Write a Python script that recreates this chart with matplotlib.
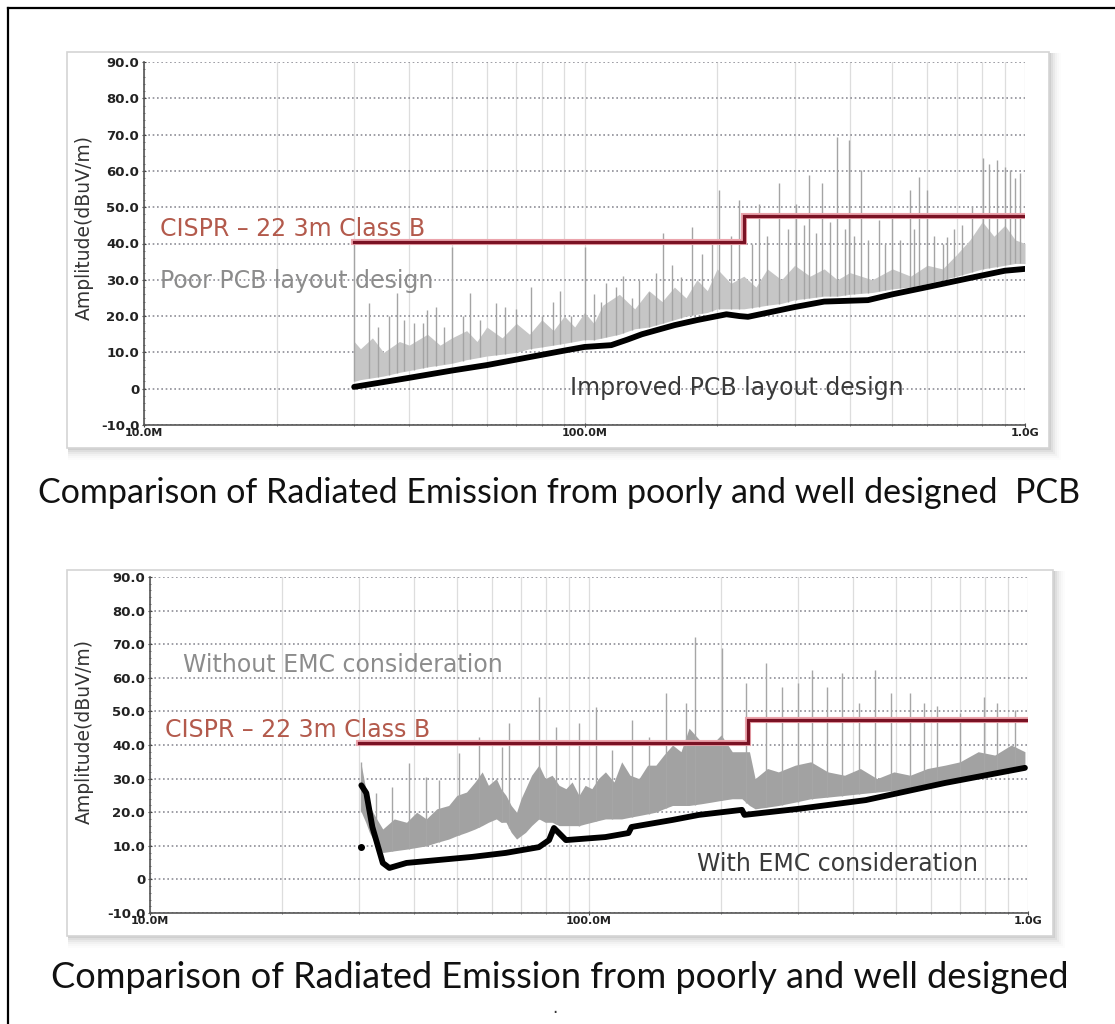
import matplotlib.pyplot as plt
import numpy as np
from matplotlib.patches import Rectangle
from matplotlib.ticker import FixedLocator, MultipleLocator, NullFormatter

W, H = 1115, 1024

# ---- top chart: poor vs improved PCB layout (freq MHz, level dBuV/m) ----
top_base_f = [30, 40, 50, 60, 75, 90, 100, 115, 125, 135, 160, 180, 210, 225,
              235, 300, 350, 440, 500, 600, 750, 900, 1000]
top_base_db = [0.5, 3, 5, 6.5, 8.7, 10.5, 11.5, 12, 13.5, 15, 17.5, 18.9, 20.5,
               20, 19.8, 22.5, 24, 24.4, 26, 28, 30.5, 32.5, 33]

top_band_f = [30, 31, 33, 35, 38, 40, 44, 47, 50, 54, 57, 60, 65, 70, 75, 80, 85,
              90, 95, 100, 105, 110, 120, 130, 140, 150, 160, 170, 180, 190, 200,
              215, 230, 245, 260, 280, 300, 325, 350, 375, 400, 450, 500, 550,
              600, 650, 700, 750, 800, 850, 900, 950, 1000]
top_band_lo = [2, 2.5, 3, 3.5, 4.5, 5, 6, 6.5, 7, 8, 8.5, 9, 9.5, 10, 11, 11.5,
               12, 12.5, 13, 13.5, 13.5, 14, 15, 16.5, 17, 18, 19, 20, 20.5, 21,
               22, 22, 22, 22.5, 23, 23.5, 24.5, 25, 25.5, 25.5, 26, 26.5, 27.5,
               28, 29, 30, 31, 32, 33, 33.5, 34, 34.5, 34.5]
top_band_hi = [13, 11, 14, 10, 13, 12, 15, 12, 14, 16, 13, 17, 14, 18, 15, 19,
               16, 20, 17, 21, 18, 23, 26, 22, 27, 24, 28, 25, 30, 27, 33, 29, 31,
               28, 33, 30, 34, 31, 33, 30, 32, 30, 33, 31, 34, 33, 37, 41, 46, 42,
               45, 41, 40]

top_spike_f = [30, 32.4, 34, 36, 37.6, 39, 41, 43, 44, 46, 48, 50.1, 53, 55, 58,
               62.8, 65.9, 70, 75.5, 80, 85, 88, 93, 100, 105, 109, 112, 118, 122,
               128, 133, 140, 145, 151, 158, 166, 175, 185, 195, 202, 215, 224,
               240, 249, 260, 276, 290, 302, 315, 323, 335, 346, 360, 375, 390,
               399, 410, 425, 440, 467, 480, 500, 520, 547, 560, 576, 598, 620,
               650, 664, 690, 720, 760, 802, 830, 863, 900, 925, 950, 975]
top_spike_db = [40, 23.6, 17, 20, 26.5, 19, 18, 18, 21.7, 22.5, 17, 39, 20, 26.4,
                19, 23.6, 22.5, 22, 28, 20, 24, 27, 20, 39, 26, 24, 29, 28, 31,
                25, 30, 26.6, 32, 43, 34, 30.8, 44.5, 37, 40, 54.7, 42, 52, 40,
                51, 42, 56.7, 44, 51, 45, 58.9, 43, 56.7, 46, 69.3, 44, 68.5, 42,
                60.2, 41, 46.5, 40, 47.3, 41, 54.7, 44, 58.3, 54.7, 42, 40, 41.8,
                44, 45, 50, 63.6, 62, 63, 61, 60.2, 58, 59.4]

# ---- bottom chart: without vs with EMC consideration ----
bot_base_f = [30.3, 31.1, 32.1, 33.9, 35.1, 38.4, 45.6, 54.2, 64.7, 76.9, 81.1,
              83.2, 88.6, 109, 123, 125, 155, 178, 223, 226, 300, 427, 647, 984]
bot_base_db = [28, 25.7, 15.6, 4.9, 3.4, 4.9, 5.8, 6.7, 7.9, 9.6, 11.7, 15.3,
               11.7, 12.6, 13.8, 15.6, 17.7, 19.2, 20.7, 19.2, 21, 23.6, 28.7, 33.2]
bot_dot_f = [30.3]
bot_dot_db = [9.6]

bot_band_f = [30.3, 31.0, 31.6, 32.5, 33.9, 36, 38.4, 40.5, 42.6, 45, 47.9, 50,
              52.6, 55, 57.1, 59, 61.5, 63, 64.7, 66.5, 68.4, 70, 71.7, 74, 76.9,
              79.5, 82.4, 85.5, 88.6, 91.5, 94.9, 98, 101.5, 105, 109, 114, 118.7,
              124, 130, 136, 142, 148, 155, 162, 169, 180, 190, 200, 212, 223,
              232, 239, 255, 270, 295, 320, 350, 382, 415, 453, 495, 539, 590,
              647, 700, 770, 840, 916, 984]
bot_band_lo = [20, 17, 14, 11, 8, 8.5, 9, 9.5, 10, 11, 12, 13, 14, 15, 16, 17,
               18, 17, 17, 14, 12, 13, 14, 16, 18, 17, 17, 16, 16, 16, 16, 16.5,
               17, 17.5, 18, 18, 18, 18.5, 19, 19.5, 20, 21, 22, 22, 22, 22.5,
               23, 23.5, 24, 24, 22, 21, 21.5, 22, 23, 24, 24.5, 25, 25.5, 26,
               26.5, 27, 28, 29, 30, 31, 32, 33, 34]
bot_band_hi = [34, 27, 22, 19, 15, 18, 17, 20, 18, 21, 22, 25, 26, 29, 32, 28,
               30, 27, 25, 22, 20, 24, 27, 31, 34, 30, 31, 28, 27, 29, 25, 28,
               27, 30, 32, 29, 35, 31, 30, 34, 34, 37, 40, 38, 45, 41, 40, 43,
               38, 38, 38, 30, 33, 32, 34, 35, 32, 31, 33, 30, 32, 31, 33, 34,
               35, 38, 37, 40, 38]

bot_spike_f = [30.3, 32.8, 35.5, 39.0, 42.6, 45.6, 50.7, 56.3, 63.5, 65.8, 77, 84,
               95, 104, 113, 125, 137, 150, 166, 174, 201, 228, 253, 275, 299,
               322, 348, 377, 412, 449, 487, 539, 580, 619, 701, 795, 851, 935]
bot_spike_db = [35, 25.7, 27.5, 34.6, 30.5, 29.6, 37.6, 42.4, 39.4, 46.5, 54.3,
                45.4, 46.5, 51.3, 38.5, 47.4, 42.4, 55.5, 52.5, 72, 69, 58.5, 64.4,
                57.3, 58.5, 62.3, 57.3, 61.4, 52.5, 62.3, 55.5, 55.5, 52.5, 51.5,
                49.5, 54.3, 52.5, 50.4]

# CISPR 22 class B 3m limit
limit_f = [30, 230, 230, 1000]
limit_db = [40.5, 40.5, 47.5, 47.5]

y_ticks = [-10, 0, 10, 20, 30, 40, 50, 60, 70, 80, 90]
y_ticklabels = ["-10.0", "0", "10.0", "20.0", "30.0", "40.0", "50.0", "60.0",
                "70.0", "80.0", "90.0"]
x_ticks = [10, 100, 1000]
x_ticklabels = ["10.0M", "100.0M", "1.0G"]

caption_top = "Comparison of Radiated Emission from poorly and well designed  PCB"
caption_bot = "Comparison of Radiated Emission from poorly and well designed"


def box(x0, y0, x1, y1):
    # pixel box (top-left origin) -> figure fraction rect
    return [x0 / W, 1 - y1 / H, (x1 - x0) / W, (y1 - y0) / H]


def panel(fig, x0, y0, x1, y1):
    # soft shadow, mostly to the right / bottom
    for i, a in enumerate([0.06, 0.045, 0.035, 0.025, 0.015, 0.01]):
        r = box(x0 + 1, y0 + 1, x1 + 2 + i * 2, y1 + 2 + i * 2)
        fig.add_artist(Rectangle((r[0], r[1]), r[2], r[3], transform=fig.transFigure,
                                 facecolor='black', edgecolor='none', alpha=a, zorder=-10))
    r = box(x0, y0, x1, y1)
    fig.add_artist(Rectangle((r[0], r[1]), r[2], r[3], transform=fig.transFigure,
                             facecolor='white', edgecolor='#d4d4d4', lw=1.2, zorder=-5))


def chart(ax, base_f, base_db, band_f, band_lo, band_hi, spike_f, spike_db,
          band_col, spike_col):
    ax.set_xscale('log')
    ax.set_xlim(10, 1000)
    ax.set_ylim(-10, 90)
    ax.set_facecolor('white')

    ax.xaxis.set_major_locator(FixedLocator(x_ticks))
    ax.xaxis.set_minor_locator(FixedLocator([m * d for d in (10, 100) for m in range(2, 10)]))
    ax.xaxis.set_minor_formatter(NullFormatter())
    ax.set_xticks(x_ticks, x_ticklabels)
    ax.set_yticks(y_ticks, y_ticklabels)
    ax.yaxis.set_minor_locator(MultipleLocator(2))

    ax.grid(True, which='both', axis='x', color='#dddddd', lw=0.9, ls='-')
    ax.grid(True, which='major', axis='y', color='#8e8e96', lw=1.2, ls=(0, (1, 1.6)))
    ax.set_axisbelow(True)

    for s in ('top', 'right'):
        ax.spines[s].set_visible(False)
    for s in ('left', 'bottom'):
        ax.spines[s].set_color('#555555')
        ax.spines[s].set_linewidth(1.2)

    ax.tick_params(axis='both', which='major', colors='#444444',
                   labelcolor='#222222', length=3, direction='inout')
    ax.tick_params(axis='both', which='minor', colors='#666666', length=2,
                   direction='inout')
    ax.tick_params(axis='y', labelsize=9.5, pad=2)
    ax.tick_params(axis='x', labelsize=8, pad=1)
    for lab in ax.get_xticklabels() + ax.get_yticklabels():
        lab.set_fontweight('bold')
        lab.set_family('DejaVu Sans')

    ax.fill_between(band_f, band_lo, band_hi, color=band_col, lw=0, zorder=2)
    lo_at = np.interp(np.log10(spike_f), np.log10(band_f), band_lo)
    ax.vlines(spike_f, lo_at, spike_db, color=spike_col, lw=1.0, zorder=2)

    ax.plot(limit_f, limit_db, color='#eba4ac', lw=4.4, zorder=3,
            solid_joinstyle='miter')
    ax.plot(limit_f, limit_db, color='#7a1224', lw=2.3, zorder=4,
            solid_joinstyle='miter')

    ax.plot(base_f, base_db, color='black', lw=4.2, zorder=5, solid_capstyle='round')


fig = plt.figure(figsize=(W / 100, H / 100), dpi=100)
fig.patch.set_facecolor('white')

# outer frame (left and top edges visible)
fig.add_artist(plt.Line2D([8 / W, 8 / W], [0, 1 - 8 / H], transform=fig.transFigure,
                          color='black', lw=1.6))
fig.add_artist(plt.Line2D([8 / W, 1], [1 - 8 / H, 1 - 8 / H], transform=fig.transFigure,
                          color='black', lw=1.6))

panel(fig, 67, 52, 1049, 448)
panel(fig, 67, 570, 1053, 936)

ax1 = fig.add_axes(box(144, 62, 1025, 425))
chart(ax1, top_base_f, top_base_db, top_band_f, top_band_lo, top_band_hi,
      top_spike_f, top_spike_db, '#c6c6c6', '#a4a4a4')

ax2 = fig.add_axes(box(150, 577, 1028, 913))
chart(ax2, bot_base_f, bot_base_db, bot_band_f, bot_band_lo, bot_band_hi,
      bot_spike_f, bot_spike_db, '#a2a2a2', '#a6a6a6')
ax2.plot(bot_dot_f, bot_dot_db, 'o', color='black', ms=4, zorder=6)


def label(x, y, s, color, size=17):
    fig.text(x / W, 1 - y / H, s, color=color, fontsize=size, ha='left', va='center',
             family='DejaVu Sans')


label(160, 229, "CISPR \u2013 22 3m Class B", '#b35a4c')
label(160, 281, "Poor PCB layout design", '#8c8c8c')
label(570, 388, "Improved PCB layout design", '#3a3a3a')
label(183, 665, "Without EMC consideration", '#8c8c8c')
label(165, 730, "CISPR \u2013 22 3m Class B", '#b35a4c')
label(697, 864, "With EMC consideration", '#3a3a3a')

for yc in (228, 732):
    fig.text(84 / W, 1 - yc / H, "Amplitude(dBuV/m)", rotation=90, ha='center',
             va='center', fontsize=13.5, color='#333333', family='DejaVu Sans')

fig.text(559 / W, 1 - 493 / H, caption_top, ha='center', va='center',
         fontsize=24.5, family='Lato', color='#111111')
fig.text(560 / W, 1 - 977 / H, caption_bot, ha='center', va='center',
         fontsize=26, family='Lato', color='#111111')
fig.text(555 / W, 1 - 1008 / H, ".", ha='center', va='center', fontsize=12,
         color='#333333')

fig.savefig('out.png', dpi=100)
